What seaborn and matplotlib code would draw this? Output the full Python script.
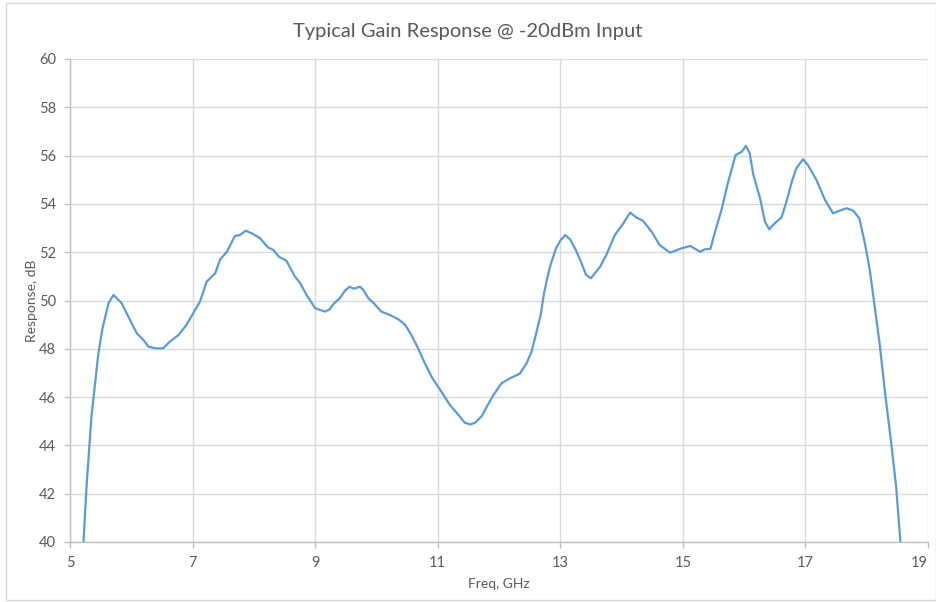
import numpy as np
import pandas as pd
import matplotlib
matplotlib.use("Agg")
import matplotlib.pyplot as plt
import seaborn as sns
from matplotlib.patches import Rectangle

# ── data ─────────────────────────────────────────────────────────────────────
freq_ghz = [5.22, 5.27, 5.35, 5.46, 5.53, 5.63, 5.71, 5.84, 5.98, 6.09,
            6.20, 6.28, 6.40, 6.52, 6.63, 6.77, 6.90, 7.01, 7.12, 7.23,
            7.37, 7.45, 7.56, 7.69, 7.77, 7.87, 7.99, 8.10, 8.23, 8.32,
            8.41, 8.53, 8.67, 8.75, 8.86, 9.00, 9.16, 9.24, 9.30, 9.40,
            9.49, 9.56, 9.63, 9.73, 9.78, 9.87, 9.96, 10.08, 10.22, 10.36,
            10.47, 10.57, 10.68, 10.79, 10.90, 11.04, 11.20, 11.34, 11.44, 11.53,
            11.61, 11.72, 11.80, 11.91, 12.04, 12.18, 12.34, 12.45, 12.53, 12.60,
            12.68, 12.73, 12.78, 12.84, 12.93, 13.00, 13.08, 13.16, 13.24, 13.32,
            13.42, 13.50, 13.65, 13.75, 13.89, 14.03, 14.14, 14.24, 14.35, 14.49,
            14.62, 14.79, 14.98, 15.12, 15.28, 15.36, 15.45, 15.52, 15.63, 15.74,
            15.86, 15.96, 16.03, 16.09, 16.15, 16.26, 16.34, 16.41, 16.50, 16.61,
            16.69, 16.77, 16.85, 16.96, 17.04, 17.18, 17.32, 17.45, 17.56, 17.67,
            17.78, 17.88, 17.97, 18.05, 18.13, 18.21, 18.30, 18.40, 18.48, 18.55]
gain_db = [40.0, 42.3, 45.2, 47.75, 48.85, 49.9, 50.23, 49.9, 49.2, 48.64,
           48.36, 48.09, 48.02, 48.02, 48.3, 48.57, 48.99, 49.47, 49.95, 50.78,
           51.13, 51.7, 52.02, 52.67, 52.71, 52.89, 52.75, 52.58, 52.2, 52.09,
           51.81, 51.65, 50.99, 50.74, 50.23, 49.68, 49.54, 49.64, 49.86, 50.09,
           50.41, 50.57, 50.49, 50.57, 50.46, 50.09, 49.88, 49.54, 49.40, 49.22,
           48.99, 48.57, 48.02, 47.40, 46.84, 46.3, 45.67, 45.26, 44.94, 44.87,
           44.94, 45.22, 45.60, 46.09, 46.57, 46.78, 46.97, 47.40, 47.88, 48.57,
           49.40, 50.23, 50.85, 51.47, 52.16, 52.48, 52.71, 52.53, 52.16, 51.71,
           51.06, 50.92, 51.4, 51.88, 52.71, 53.2, 53.64, 53.44, 53.3, 52.85,
           52.3, 51.98, 52.16, 52.26, 52.02, 52.12, 52.14, 52.8, 53.75, 54.92,
           56.02, 56.16, 56.40, 56.10, 55.2, 54.23, 53.26, 52.95, 53.2, 53.44,
           54.09, 54.85, 55.47, 55.85, 55.61, 54.99, 54.16, 53.61, 53.72, 53.82,
           53.72, 53.40, 52.37, 51.26, 49.74, 48.23, 46.16, 44.09, 42.29, 40.0]

x_ticks = [5, 7, 9, 11, 13, 15, 17, 19]
y_ticks = [40, 42, 44, 46, 48, 50, 52, 54, 56, 58, 60]

df = pd.DataFrame({"freq": freq_ghz, "gain": gain_db})

# ── style ────────────────────────────────────────────────────────────────────
sns.set_style("whitegrid")
plt.rcParams["font.family"] = ["Lato", "DejaVu Sans"]
TXT = "#595959"
GRID = "#D9D9D9"

fig = plt.figure(figsize=(9.36, 6.02), dpi=100)
ax = fig.add_axes([70 / 936, 1 - 542 / 602, 858 / 936, 483 / 602])

sns.lineplot(data=df, x="freq", y="gain", ax=ax, color="#5B9BD5", lw=1.6)

ax.set_xlim(5, 19)
ax.set_ylim(40, 60)
ax.set_xticks(x_ticks)
ax.set_yticks(y_ticks)
ax.grid(True, color=GRID, lw=1)
for side in ["top", "right"]:
    ax.spines[side].set_visible(False)
for side in ["left", "bottom"]:
    ax.spines[side].set_color("#BFBFBF")
    ax.spines[side].set_linewidth(1)
ax.tick_params(axis="both", length=4, width=1, color="#BFBFBF",
               labelcolor=TXT, labelsize=10.5, pad=6)
ax.tick_params(axis="x", bottom=True)
ax.tick_params(axis="y", left=True)
# last x label sits a little left, as in the reference
ax.get_xticklabels()[-1].set_horizontalalignment("right")
ax.get_xticklabels()[-1].set_x(19.08)

ax.set_xlabel("Freq, GHz", color=TXT, fontsize=10, labelpad=6)
ax.set_ylabel("Response, dB", color=TXT, fontsize=10, labelpad=1)
fig.text(0.5, 1 - 31 / 602, "Typical Gain Response @ -20dBm Input",
         ha="center", va="center", color=TXT, fontsize=14.5)

# chart-area border
fig.patches.append(Rectangle((6 / 936, 2 / 602), 929.5 / 936, 597 / 602,
                             transform=fig.transFigure, fill=False,
                             ec=GRID, lw=1, zorder=0))

plt.savefig("out.png", dpi=100)
plt.close()
